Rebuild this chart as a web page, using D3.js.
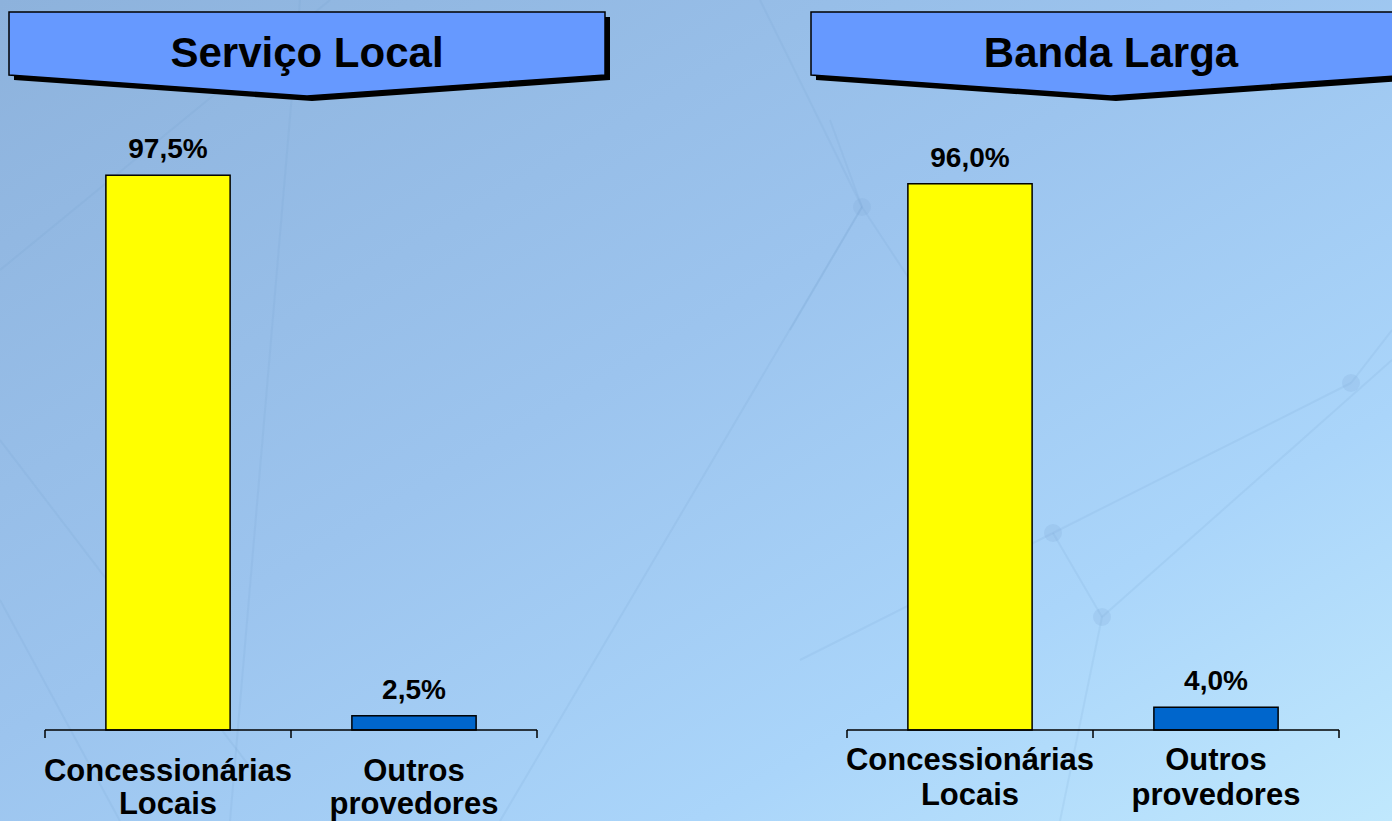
<!DOCTYPE html>
<html>
<head>
<meta charset="utf-8">
<script src="https://cdn.jsdelivr.net/npm/d3@7/dist/d3.min.js"></script>
<style>
  html, body { margin: 0; padding: 0; overflow: hidden; }
  svg { display: block; }
  text { font-family: Arial, "Liberation Sans", sans-serif; font-weight: bold; fill: #000; }
</style>
</head>
<body>
<svg id="chart" width="1392" height="821"></svg>
<script>
// ---- data ----
const panelTitles = ["Serviço Local", "Banda Larga"];
const categories = ["Concessionárias Locais", "Outros provedores"];
const categoryLines = [["Concessionárias", "Locais"], ["Outros", "provedores"]];
const servicoLocalValues = [97.5, 2.5];
const bandaLargaValues = [96.0, 4.0];
const valueLabelsServico = ["97,5%", "2,5%"];
const valueLabelsBanda = ["96,0%", "4,0%"];
const barColors = ["#FFFF00", "#0066CC"];

const W = 1392, H = 821;
const svg = d3.select("#chart");

// ---- background ----
const defs = svg.append("defs");
const bg = defs.append("linearGradient").attr("id", "bg")
  .attr("x1", "0%").attr("y1", "0%").attr("x2", "100%").attr("y2", "100%");
bg.append("stop").attr("offset", "0%").attr("stop-color", "#8db2dc");
bg.append("stop").attr("offset", "45%").attr("stop-color", "#9cc4ee");
bg.append("stop").attr("offset", "75%").attr("stop-color", "#aad5fa");
bg.append("stop").attr("offset", "100%").attr("stop-color", "#c0e8fd");
svg.append("rect").attr("width", W).attr("height", H).attr("fill", "url(#bg)");

// faint decorative network lines
const deco = svg.append("g").attr("stroke", "#6f9ccc").attr("stroke-opacity", 0.13).attr("stroke-width", 2).attr("fill", "none");
const decoLines = [
  [[0, 270], [330, 0]], [[0, 440], [260, 780]], [[300, 0], [230, 821]],
  [[830, 120], [862, 207]], [[862, 207], [790, 330]], [[862, 207], [910, 280]],
  [[760, 0], [862, 207]], [[1053, 533], [1351, 383]], [[1102, 617], [1392, 360]],
  [[1053, 533], [1102, 617]], [[1102, 617], [1060, 821]], [[500, 821], [862, 207]],
  [[1351, 383], [1392, 330]], [[800, 660], [1053, 533]], [[0, 600], [120, 821]]
];
decoLines.forEach(l => deco.append("line").attr("x1", l[0][0]).attr("y1", l[0][1]).attr("x2", l[1][0]).attr("y2", l[1][1]));
const decoNodes = [[862, 207], [1351, 383], [1053, 533], [1102, 617]];
decoNodes.forEach(n => svg.append("circle").attr("cx", n[0]).attr("cy", n[1]).attr("r", 9)
  .attr("fill", "#7fa8d6").attr("opacity", 0.22));

// ---- panels ----
const panels = [
  { title: panelTitles[0], values: servicoLocalValues, labels: valueLabelsServico,
    x0: 45, x1: 537, banner: { left: 9, right: 605 }, catBase: 781, lineGap: 33 },
  { title: panelTitles[1], values: bandaLargaValues, labels: valueLabelsBanda,
    x0: 847, x1: 1339, banner: { left: 811, right: 1411 }, catBase: 770, lineGap: 35 }
];

const y = d3.scaleLinear().domain([0, 100]).range([730, 161]);

panels.forEach(p => {
  const g = svg.append("g");

  // banner
  const b = p.banner, top = 12, side = 75, tip = 96;
  const cx = (b.left + b.right) / 2;
  const pts = [[b.left, top], [b.right, top], [b.right, side], [cx, tip], [b.left, side]];
  const line = d3.line();
  g.append("path").attr("d", line(pts) + "Z").attr("transform", "translate(5,5)").attr("fill", "#000");
  g.append("path").attr("d", line(pts) + "Z").attr("fill", "#6699FF").attr("stroke", "#000").attr("stroke-width", 1.5);
  g.append("text").attr("x", cx).attr("y", 67).attr("text-anchor", "middle")
    .style("font-size", "42px").text(p.title);

  // scales
  const x = d3.scaleBand().domain(categories).range([p.x0, p.x1]).paddingInner(0).paddingOuter(0);
  const barW = x.bandwidth() * 0.505;

  // bars
  g.selectAll("rect.bar").data(p.values).join("rect").attr("class", "bar")
    .attr("x", (d, i) => x(categories[i]) + (x.bandwidth() - barW) / 2)
    .attr("width", barW)
    .attr("y", d => y(d))
    .attr("height", d => y(0) - y(d))
    .attr("fill", (d, i) => barColors[i])
    .attr("stroke", "#000").attr("stroke-width", 1.5);

  // value labels
  g.selectAll("text.val").data(p.values).join("text").attr("class", "val")
    .attr("x", (d, i) => x(categories[i]) + x.bandwidth() / 2)
    .attr("y", d => y(d) - 17)
    .attr("text-anchor", "middle")
    .style("font-size", "28px")
    .text((d, i) => p.labels[i]);

  // axis: baseline with ticks at band boundaries
  const axisY = y(0);
  g.append("line").attr("x1", p.x0).attr("x2", p.x1).attr("y1", axisY).attr("y2", axisY)
    .attr("stroke", "#000").attr("stroke-width", 1.5);
  const tickXs = categories.map(c => x(c)).concat([x(categories[categories.length - 1]) + x.bandwidth()]);
  g.selectAll("line.tick").data(tickXs).join("line").attr("class", "tick")
    .attr("x1", d => d).attr("x2", d => d).attr("y1", axisY).attr("y2", axisY + 8)
    .attr("stroke", "#000").attr("stroke-width", 1.5);

  // category labels
  categories.forEach((c, i) => {
    const t = g.append("text").attr("text-anchor", "middle")
      .attr("x", x(c) + x.bandwidth() / 2).attr("y", p.catBase)
      .style("font-size", "31px");
    categoryLines[i].forEach((ln, j) => {
      t.append("tspan").attr("x", x(c) + x.bandwidth() / 2).attr("dy", j === 0 ? 0 : p.lineGap).text(ln);
    });
  });
});
</script>
</body>
</html>
